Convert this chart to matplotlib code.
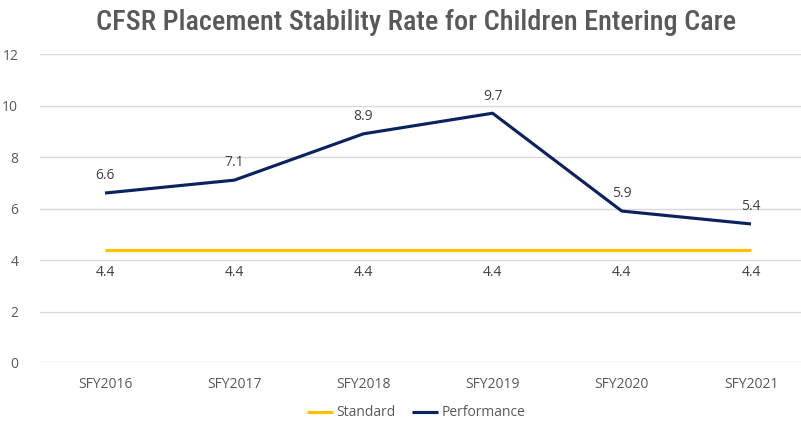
import matplotlib
matplotlib.use("Agg")
from matplotlib import pyplot as plt

years = ["SFY2016", "SFY2017", "SFY2018", "SFY2019", "SFY2020", "SFY2021"]
standard = [4.4, 4.4, 4.4, 4.4, 4.4, 4.4]
performance = [6.6, 7.1, 8.9, 9.7, 5.9, 5.4]

plt.rcParams.update({"font.family": ["Open Sans", "DejaVu Sans"]})

fig = plt.figure(figsize=(8.01, 4.22), dpi=100)
W, H = 801, 422
ax = fig.add_axes([40.4 / W, 59 / H, (815.6 - 40.4) / W, (363 - 54) / H])

x = list(range(len(years)))
ax.plot(x, standard, color="#FFC000", lw=2.25, label="Standard", solid_capstyle="butt")
ax.plot(x, performance, color="#0B2260", lw=2.25, label="Performance", solid_capstyle="butt")

for i in x:
    ax.annotate(f"{performance[i]:.1f}", (i, performance[i]), xytext=(0, 7),
                textcoords="offset points", ha="center", va="bottom", fontsize=10, color="#404040")
    ax.annotate(f"{standard[i]:.1f}", (i, standard[i]), xytext=(0, -11),
                textcoords="offset points", ha="center", va="top", fontsize=10, color="#404040")

ax.set_xlim(-0.5, 5.5)
ax.set_ylim(0, 12)
ax.set_yticks(range(0, 13, 2))
ax.set_xticks(x)
ax.set_xticklabels(years)
ax.grid(axis="y", color="#D9D9D9", lw=1)
ax.set_axisbelow(True)
for s in ax.spines.values():
    s.set_visible(False)
ax.tick_params(length=0, labelsize=10, labelcolor="#595959")
ax.tick_params(axis="x", pad=10)
ax.tick_params(axis="y", pad=16)

fig.text(416 / W, 1 - 22 / H, "CFSR Placement Stability Rate for Children Entering Care",
         ha="center", va="center", fontsize=20.3, color="#595959", weight="medium",
         family=["Roboto Condensed", "Liberation Sans Narrow", "Roboto", "DejaVu Sans"])

fig.legend(loc="center", bbox_to_anchor=(416 / W, 1 - 413 / H), ncol=2, frameon=False,
           fontsize=10, labelcolor="#595959", handlelength=1.9, handletextpad=0.2,
           columnspacing=1.2)

fig.savefig("out.png", dpi=100)
